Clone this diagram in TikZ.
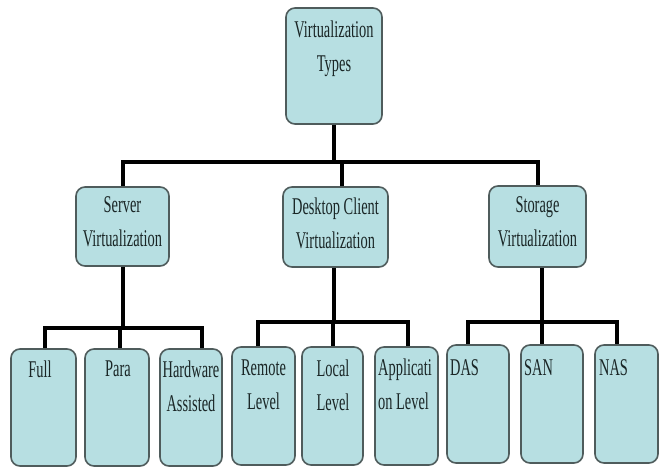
\documentclass[tikz,border=0pt]{standalone}
\usepackage{fontspec}
\setmainfont{Liberation Serif}[FakeStretch=0.6]
\begin{document}
\begin{tikzpicture}[x=1pt,y=-1pt,
  box/.style={draw=boxline, line width=1.6pt, fill=boxfill, rounded corners=9pt, inner sep=0pt},
  txt/.style={inner sep=0pt, text=txtcol, font=\fontsize{24}{34}\selectfont, align=center, anchor=north},
  ltxt/.style={txt, align=left, anchor=north west},
  conn/.style={line width=4pt, draw=black, line join=miter}]
\definecolor{boxfill}{HTML}{B7DFE2}
\definecolor{boxline}{HTML}{4F5C5C}
\definecolor{txtcol}{HTML}{1A2626}
\useasboundingbox[fill=white] (0,0) rectangle (662,468);

% boxes
\node[box, minimum width=96, minimum height=116] (top) at (334,66) {};
\node[box, minimum width=93, minimum height=79] (server) at (122.5,226.5) {};
\node[box, minimum width=105, minimum height=80] (desk) at (335.5,227) {};
\node[box, minimum width=97, minimum height=81] (storage) at (537.5,226.5) {};

\node[box, minimum width=65, minimum height=117] (full) at (43.5,407.5) {};
\node[box, minimum width=64, minimum height=117] (para) at (117,407.5) {};
\node[box, minimum width=62, minimum height=117] (hw) at (191,407.5) {};
\node[box, minimum width=63, minimum height=118] (remote) at (263.5,406) {};
\node[box, minimum width=61, minimum height=118] (local) at (332.5,406) {};
\node[box, minimum width=63, minimum height=118] (app) at (406.5,406) {};
\node[box, minimum width=62, minimum height=118] (das) at (478,404) {};
\node[box, minimum width=62, minimum height=118] (san) at (552,404) {};
\node[box, minimum width=63, minimum height=118] (nas) at (626.5,404) {};

% texts
\node[txt] (ttop) at (334,21) {Virtualization\\Types};
\node[txt] (tserver) at (122.5,196) {Server\\Virtualization};
\node[txt] (tdesk) at (335.5,198) {Desktop Client\\Virtualization};
\node[txt] (tstorage) at (537.5,196) {Storage\\Virtualization};
\node[txt] (tfull) at (40,361) {Full};
\node[txt] (tpara) at (118,361) {Para};
\node[txt] (thw) at (191,361) {Hardware\\Assisted};
\node[txt] (tremote) at (263.5,360) {Remote\\Level};
\node[txt] (tlocal) at (333,360) {Local\\Level};
\node[ltxt] (tapp) at (378,359) {Applicati\\on Level};
\node[ltxt] (tdas) at (450,359) {DAS};
\node[ltxt] (tsan) at (524,359) {SAN};
\node[ltxt] (tnas) at (599,359) {NAS};

% main tree
\coordinate (mb) at (334,162);
\draw[conn] (top.south) -- (mb);
\draw[conn] (server.north) |- (mb) -| (storage.north);
\draw[conn] ([xshift=6.5pt]desk.north) -- ([xshift=6.5pt]desk.north |- mb);

% server subtree
\coordinate (sb) at (120,328);
\draw[conn] (server.south) -- (server.south |- sb);
\draw[conn] ([xshift=1.5pt]full.north) |- (sb) -| ([xshift=11pt]hw.north);
\draw[conn] ([xshift=3pt]para.north) -- ([xshift=3pt]para.north |- sb);

% desktop subtree
\coordinate (db) at (334,322);
\draw[conn] ([xshift=-1.5pt]desk.south) -- (db);
\draw[conn] ([xshift=-5.5pt]remote.north) |- (db) -| ([xshift=1.5pt]app.north);
\draw[conn] ([xshift=0.5pt]local.north) -- ([xshift=0.5pt]local.north |- db);

% storage subtree
\coordinate (stb) at (542,322);
\draw[conn] ([xshift=4.5pt]storage.south) -- (stb);
\draw[conn] ([xshift=-10pt]das.north) |- (stb) -| ([xshift=-9.5pt]nas.north);
\draw[conn] ([xshift=-10pt]san.north) -- ([xshift=-10pt]san.north |- stb);
\end{tikzpicture}
\end{document}
